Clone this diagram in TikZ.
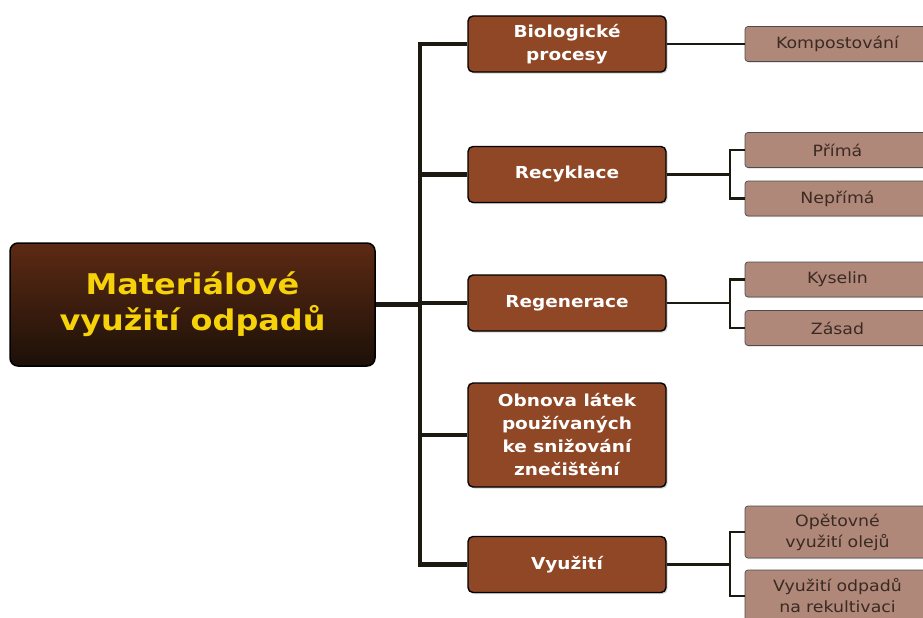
\documentclass[tikz,border=0pt]{standalone}
\usepackage{fontspec}
\setmainfont[FakeStretch=1.12]{DejaVu Sans}
\usetikzlibrary{shadows}
\definecolor{rootTop}{HTML}{5C2A14}
\definecolor{rootBot}{HTML}{1C1008}
\definecolor{rootText}{HTML}{F6D20A}
\definecolor{lvlOne}{HTML}{8F4726}
\definecolor{lvlTwo}{HTML}{B0887A}
\definecolor{lvlTwoText}{HTML}{3A2A22}
\definecolor{lineCol}{HTML}{1C1A10}
\begin{document}
\begin{tikzpicture}[x=1pt,y=-1pt,
  rootbox/.style={draw=black, line width=1.5pt, rounded corners=8pt, top color=rootTop, bottom color=rootBot,
    minimum width=365pt, minimum height=123pt, align=center, text=rootText,
    font=\bfseries\fontsize{28.5}{36}\selectfont, inner sep=0pt},
  oneBox/.style={draw=black, line width=1.4pt, rounded corners=5pt, fill=lvlOne,
    minimum width=198pt, minimum height=56pt, align=center, text=white,
    font=\bfseries\fontsize{16.5}{23}\selectfont, inner sep=0pt,
    drop shadow={shadow xshift=1.5pt, shadow yshift=-1.5pt, opacity=0.35}},
  twoBox/.style={draw=black!70, line width=0.7pt, rounded corners=3pt, fill=lvlTwo,
    minimum width=200pt, minimum height=35pt, align=center, text=lvlTwoText,
    font=\fontsize{15.5}{21}\selectfont, inner sep=0pt, text width=185pt,
    drop shadow={shadow xshift=1.2pt, shadow yshift=-1.2pt, opacity=0.3}},
  trunk/.style={draw=lineCol, line width=4.5pt, line join=miter},
  sub/.style={draw=lineCol, line width=2.8pt, line join=miter}
]
\useasboundingbox (0,0) rectangle (923,618);

% root
\node[rootbox] (root) at (192.5,304.5) {Materiálové\\využití odpadů};

% level one
\node[oneBox] (b1) at (567,44) {Biologické\\procesy};
\node[oneBox] (b2) at (567,174.5) {Recyklace};
\node[oneBox] (b3) at (567,303) {Regenerace};
\node[oneBox, minimum height=104pt] (b4) at (567,435) {Obnova látek\\používaných\\ke snižování\\znečištění};
\node[oneBox] (b5) at (567,564.5) {Využití};

% level two
\node[twoBox] (c1) at (845,44) {\hspace*{-15pt}Kompostování};
\node[twoBox] (c2a) at (845,150) {\hspace*{-15pt}Přímá};
\node[twoBox] (c2b) at (845,198.5) {\hspace*{-15pt}Nepřímá};
\node[twoBox] (c3a) at (845,279.5) {\hspace*{-15pt}Kyselin};
\node[twoBox] (c3b) at (845,328) {\hspace*{-15pt}Zásad};
\node[twoBox, minimum height=52pt] (c5a) at (845,532) {\hspace*{-15pt}Opětovné\\\hspace*{-15pt}využití olejů};
\node[twoBox, minimum height=52pt] (c5b) at (845,596) {\hspace*{-15pt}Využití odpadů\\\hspace*{-15pt}na rekultivaci};

% trunk
\coordinate (tx) at (420,0);
\draw[trunk] (b1.west) -- (b1.west -| tx) -- (b5.west -| tx) -- (b5.west);
\draw[trunk] (root.east) -- (root.east -| tx);
\draw[trunk] (b2.west) -- (b2.west -| tx);
\draw[trunk] (b3.west) -- (b3.west -| tx);
\draw[trunk] (b4.west) -- (b4.west -| tx);

% sub connectors
\coordinate (fx) at (730,0);
\draw[sub] (b1.east) -- (c1.west);
\draw[sub] (b2.east) -- (b2.east -| fx);
\draw[sub] (c2a.west) -- (c2a.west -| fx) -- (c2b.west -| fx) -- (c2b.west);
\draw[sub] (b3.east) -- (b3.east -| fx);
\draw[sub] (c3a.west) -- (c3a.west -| fx) -- (c3b.west -| fx) -- (c3b.west);
\draw[sub] (b5.east) -- (b5.east -| fx);
\draw[sub] (c5a.west) -- (c5a.west -| fx) -- (c5b.west -| fx) -- (c5b.west);
\end{tikzpicture}
\end{document}
